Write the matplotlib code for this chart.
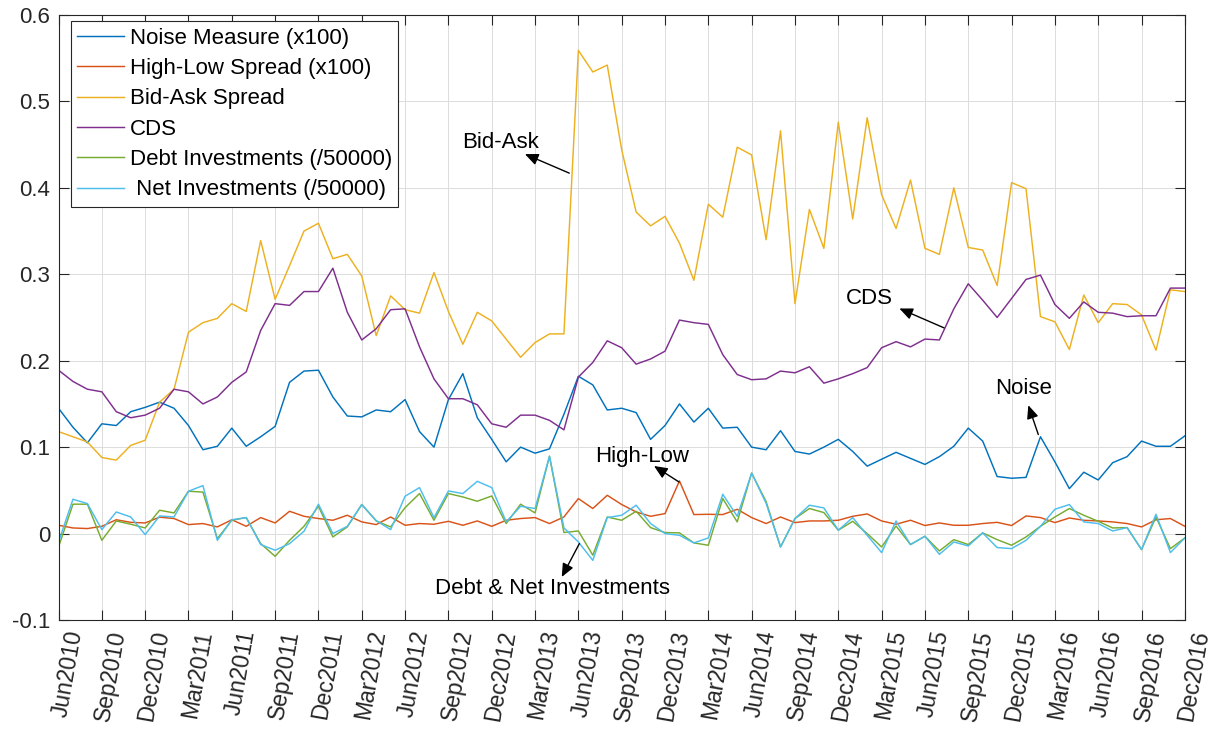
import numpy as np
import pandas as pd
import matplotlib
matplotlib.use("Agg")
import matplotlib.pyplot as plt
from matplotlib import transforms

plt.rcParams["font.family"] = ["Liberation Sans", "DejaVu Sans"]

# monthly observations Jun2010 .. Dec2016
months = pd.date_range("2010-06-01", "2016-12-01", freq="MS")
month_labels = [d.strftime("%b%Y") for d in months]

noise = [0.145, 0.123, 0.105, 0.127, 0.125, 0.141, 0.146, 0.152, 0.145, 0.125,
         0.097, 0.101, 0.122, 0.101, 0.112, 0.124, 0.175, 0.188, 0.189, 0.158,
         0.136, 0.135, 0.143, 0.141, 0.155, 0.118, 0.100, 0.155, 0.185, 0.134,
         0.109, 0.083, 0.100, 0.093, 0.098, 0.138, 0.182, 0.172, 0.143, 0.145,
         0.140, 0.109, 0.125, 0.150, 0.129, 0.145, 0.122, 0.123, 0.100, 0.097,
         0.119, 0.095, 0.092, 0.100, 0.109, 0.095, 0.078, 0.086, 0.094, 0.087,
         0.080, 0.089, 0.101, 0.122, 0.107, 0.066, 0.064, 0.065, 0.112, 0.083,
         0.052, 0.071, 0.062, 0.082, 0.089, 0.107, 0.101, 0.101, 0.113]

high_low = [0.0096, 0.0065, 0.0058, 0.0084, 0.0160, 0.0130, 0.0123, 0.0190, 0.0174, 0.0104,
            0.0116, 0.0077, 0.0160, 0.0084, 0.0185, 0.0123, 0.0258, 0.0200, 0.0174, 0.0154,
            0.0212, 0.0135, 0.0104, 0.0192, 0.0096, 0.0116, 0.0108, 0.0142, 0.0096, 0.0146,
            0.0084, 0.0154, 0.0174, 0.0185, 0.0116, 0.0192, 0.0405, 0.0290, 0.0443, 0.0336,
            0.0250, 0.0200, 0.0231, 0.0609, 0.0220, 0.0223, 0.0220, 0.0281, 0.0185, 0.0116,
            0.0192, 0.0127, 0.0146, 0.0146, 0.0154, 0.0200, 0.0227, 0.0146, 0.0108, 0.0154,
            0.0093, 0.0123, 0.0096, 0.0096, 0.0116, 0.0130, 0.0093, 0.0204, 0.0185, 0.0127,
            0.0180, 0.0154, 0.0146, 0.0135, 0.0116, 0.0077, 0.0160, 0.0174, 0.0084]

bid_ask = [0.118, 0.112, 0.106, 0.088, 0.085, 0.102, 0.108, 0.152, 0.167, 0.233,
           0.244, 0.249, 0.266, 0.257, 0.339, 0.271, 0.310, 0.350, 0.359, 0.318,
           0.323, 0.298, 0.229, 0.275, 0.259, 0.255, 0.302, 0.257, 0.219, 0.256,
           0.246, 0.225, 0.204, 0.221, 0.231, 0.231, 0.559, 0.534, 0.542, 0.444,
           0.372, 0.356, 0.367, 0.336, 0.293, 0.381, 0.366, 0.447, 0.438, 0.340,
           0.466, 0.266, 0.375, 0.330, 0.476, 0.364, 0.481, 0.392, 0.353, 0.409,
           0.330, 0.323, 0.400, 0.331, 0.328, 0.287, 0.406, 0.399, 0.251, 0.245,
           0.213, 0.276, 0.244, 0.266, 0.265, 0.253, 0.212, 0.282, 0.280]

cds = [0.189, 0.176, 0.167, 0.164, 0.141, 0.134, 0.137, 0.145, 0.167, 0.164,
       0.150, 0.158, 0.175, 0.187, 0.235, 0.266, 0.264, 0.280, 0.280, 0.307,
       0.256, 0.224, 0.237, 0.259, 0.260, 0.216, 0.179, 0.156, 0.156, 0.149,
       0.127, 0.123, 0.137, 0.137, 0.131, 0.120, 0.181, 0.198, 0.223, 0.215,
       0.196, 0.202, 0.211, 0.247, 0.244, 0.242, 0.207, 0.184, 0.178, 0.179,
       0.188, 0.186, 0.193, 0.174, 0.179, 0.185, 0.192, 0.215, 0.222, 0.216,
       0.225, 0.224, 0.260, 0.289, 0.270, 0.250, 0.272, 0.294, 0.299, 0.265,
       0.249, 0.268, 0.256, 0.255, 0.251, 0.252, 0.252, 0.284, 0.284]

debt_inv = [-0.0155, 0.0340, 0.0340, -0.0078, 0.0146, 0.0108, 0.0065, 0.0270, 0.0239, 0.0490,
            0.0480, -0.0058, 0.0154, 0.0185, -0.0116, -0.0263, -0.0078, 0.0084, 0.0316, -0.0039,
            0.0077, 0.0336, 0.0146, 0.0077, 0.0300, 0.0463, 0.0154, 0.0463, 0.0424, 0.0374,
            0.0435, 0.0116, 0.0340, 0.0239, 0.0895, 0.0012, 0.0030, -0.0250, 0.0192, 0.0154,
            0.0258, 0.0069, 0.0012, 0.0008, -0.0108, -0.0135, 0.0405, 0.0135, 0.0700, 0.0370,
            -0.0155, 0.0174, 0.0290, 0.0243, 0.0039, 0.0142, 0.0000, -0.0155, 0.0088, -0.0127,
            -0.0031, -0.0201, -0.0070, -0.0127, 0.0008, -0.0070, -0.0135, -0.0039, 0.0084, 0.0192,
            0.0290, 0.0212, 0.0142, 0.0065, 0.0069, -0.0185, 0.0192, -0.0174, -0.0050]

net_inv = [-0.0097, 0.0397, 0.0347, 0.0046, 0.0250, 0.0192, -0.0012, 0.0204, 0.0192, 0.0490,
           0.0555, -0.0078, 0.0160, 0.0185, -0.0127, -0.0193, -0.0116, 0.0027, 0.0340, 0.0000,
           0.0084, 0.0336, 0.0150, 0.0046, 0.0432, 0.0532, 0.0185, 0.0493, 0.0463, 0.0605,
           0.0532, 0.0135, 0.0316, 0.0290, 0.0895, 0.0065, -0.0097, -0.0310, 0.0185, 0.0212,
           0.0328, 0.0116, 0.0000, -0.0020, -0.0108, -0.0050, 0.0455, 0.0200, 0.0700, 0.0350,
           -0.0155, 0.0174, 0.0328, 0.0297, 0.0039, 0.0185, -0.0020, -0.0220, 0.0146, -0.0127,
           -0.0031, -0.0240, -0.0097, -0.0143, 0.0008, -0.0162, -0.0174, -0.0078, 0.0084, 0.0281,
           0.0336, 0.0135, 0.0116, 0.0030, 0.0069, -0.0185, 0.0223, -0.0220, -0.0050]

series = [
    (noise, "Noise Measure (x100)", "#0072BD"),
    (high_low, "High-Low Spread (x100)", "#D95319"),
    (bid_ask, "Bid-Ask Spread", "#EDB120"),
    (cds, "CDS", "#7E2F8E"),
    (debt_inv, "Debt Investments (/50000)", "#77AC30"),
    (net_inv, " Net Investments (/50000)", "#4DBEEE"),
]

fig = plt.figure(figsize=(12.19, 7.29), dpi=100)
ax = fig.add_axes([0.048, 0.1495, 0.924, 0.8300])

x = np.arange(len(months))
for vals, name, col in series:
    ax.plot(x, vals, color=col, lw=1.05, label=name)

ax.set_xlim(0, len(months) - 1)
ax.set_ylim(-0.1, 0.6)
ax.set_yticks(np.arange(-0.1, 0.61, 0.1))
ax.set_yticklabels(["%g" % round(v, 1) for v in np.arange(-0.1, 0.61, 0.1)])
ax.set_xticks(x[::3])
ax.set_xticklabels(month_labels[::3], rotation=80, ha="center", va="top")

ax.tick_params(axis="both", direction="in", length=7, width=0.8, color="#262626",
               labelsize=16, labelcolor="#262626", top=True, right=True, pad=6)
ax.tick_params(axis="x", labelsize=16.5)
# nudge the rotated month labels a little to the right of their ticks
shift = transforms.ScaledTranslation(9 / 100, 0, fig.dpi_scale_trans)
for lab in ax.get_xticklabels():
    lab.set_transform(lab.get_transform() + shift)

ax.grid(True, color="#dcdcdc", lw=0.7)
ax.set_axisbelow(True)
for sp in ax.spines.values():
    sp.set_color("#262626")
    sp.set_linewidth(0.8)

leg = ax.legend(loc="upper left", bbox_to_anchor=(0.0108, 0.990), borderaxespad=0,
                fontsize=16, handlelength=2.1, handletextpad=0.25, labelspacing=0.42,
                fancybox=False, framealpha=1, edgecolor="#262626", borderpad=0.3)
leg.get_frame().set_linewidth(0.8)

# text arrows pointing at each series
notes = [
    ("Bid-Ask", (30.6, 0.452), (35.37, 0.417), (32.3, 0.439)),
    ("CDS", (56.18, 0.272), (61.32, 0.238), (58.23, 0.2604)),
    ("Noise", (66.85, 0.168), (67.85, 0.1146), (67.16, 0.1485)),
    ("High-Low", (40.39, 0.0887), (42.97, 0.0597), (41.24, 0.0782)),
    ("Debt & Net Investments", (34.19, -0.0637), (36.07, -0.0116), (34.85, -0.0502)),
]
for txt, pos, tail, head in notes:
    ax.text(pos[0], pos[1], txt, fontsize=16, ha="center", va="center", color="black")
    ax.annotate("", xy=head, xytext=tail,
                arrowprops=dict(arrowstyle="-|>,head_length=0.8,head_width=0.35",
                                color="black", lw=1.0, shrinkA=0, shrinkB=0))

fig.savefig("out.png", dpi=100)
